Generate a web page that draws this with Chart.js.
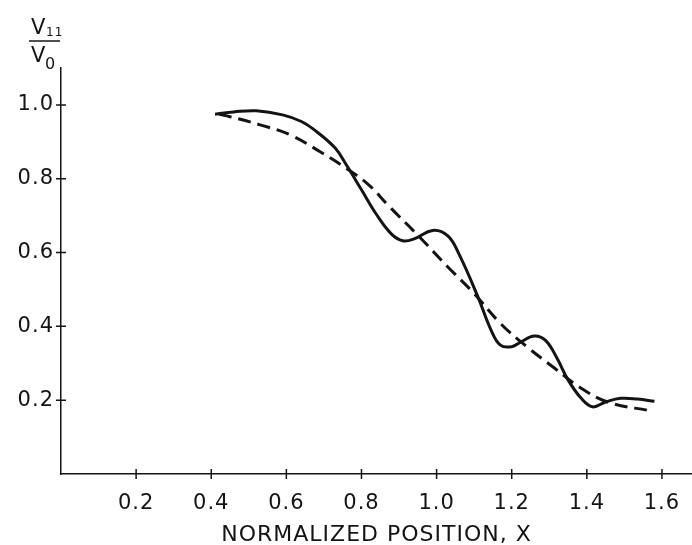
<!DOCTYPE html>
<html>
<head>
<meta charset="utf-8">
<script src="https://cdn.jsdelivr.net/npm/chart.js@4.4.1/dist/chart.umd.min.js"></script>
<style>
  html, body { margin: 0; padding: 0; background: #fff; }
  canvas { display: block; }
</style>
</head>
<body>
<canvas id="myChart" width="692" height="545"></canvas>
<script>
// measured curve (solid)
const solidX = [0.41, 0.46, 0.52, 0.59, 0.64, 0.68, 0.73, 0.76, 0.80, 0.84, 0.88, 0.91, 0.94, 0.99,
    1.03, 1.06, 1.11, 1.145, 1.17, 1.20, 1.225, 1.26, 1.29, 1.32, 1.35, 1.385, 1.415, 1.45, 1.49, 1.535, 1.58];
const solidY = [0.975, 0.981, 0.984, 0.973, 0.955, 0.928, 0.883, 0.837, 0.770, 0.703, 0.650, 0.632, 0.637, 0.660,
    0.645, 0.595, 0.480, 0.390, 0.349, 0.345, 0.358, 0.374, 0.362, 0.315, 0.255, 0.205, 0.182, 0.195, 0.205, 0.203, 0.197];

// smooth curve (dashed)
const dashX = [0.42, 0.45, 0.53, 0.61, 0.69, 0.76, 0.82, 0.87, 0.95, 1.03, 1.10, 1.17, 1.24, 1.31, 1.38, 1.455, 1.57];
const dashY = [0.975, 0.968, 0.946, 0.919, 0.873, 0.828, 0.783, 0.729, 0.647, 0.561, 0.489, 0.408, 0.345, 0.290, 0.236, 0.195, 0.171];

const xTicks = [0.2, 0.4, 0.6, 0.8, 1.0, 1.2, 1.4, 1.6];
const yTicks = [0.2, 0.4, 0.6, 0.8, 1.0];
const xTitle = 'NORMALIZED POSITION, X';

const ink = '#141414';
const font = '"DejaVu Sans", sans-serif';

const toPoints = (xs, ys) => xs.map((x, i) => ({ x: x, y: ys[i] }));

// wider lettering like the original drawing
const spacing = {
    id: 'spacing',
    beforeUpdate(chart) { chart.ctx.letterSpacing = '1px'; },
    beforeDraw(chart) { chart.ctx.letterSpacing = '1px'; }
};

// tick marks that cross the axis lines
const crossTicks = {
    id: 'crossTicks',
    afterDraw(chart) {
        const { ctx, chartArea, scales } = chart;
        ctx.save();
        ctx.strokeStyle = ink;
        ctx.lineWidth = 1.5;
        ctx.beginPath();
        xTicks.forEach(v => {
            const px = scales.x.getPixelForValue(v);
            ctx.moveTo(px, chartArea.bottom - 5);
            ctx.lineTo(px, chartArea.bottom + 5);
        });
        yTicks.forEach(v => {
            const py = scales.y.getPixelForValue(v);
            ctx.moveTo(chartArea.left - 5, py);
            ctx.lineTo(chartArea.left + 5, py);
        });
        ctx.stroke();
        ctx.restore();
    }
};

// V11 / V0 label above the y axis
const yLabel = {
    id: 'yLabel',
    afterDraw(chart) {
        const ctx = chart.ctx;
        ctx.save();
        ctx.fillStyle = ink;
        ctx.strokeStyle = ink;
        ctx.textAlign = 'left';
        ctx.textBaseline = 'alphabetic';
        ctx.font = '21px ' + font;
        ctx.fillText('V', 31, 34);
        ctx.fillText('V', 31, 62);
        ctx.font = '12px ' + font;
        ctx.fillText('11', 46, 36);
        ctx.font = '16px ' + font;
        ctx.fillText('0', 45, 69);
        ctx.lineWidth = 1.5;
        ctx.beginPath();
        ctx.moveTo(29, 41);
        ctx.lineTo(60, 41);
        ctx.stroke();
        ctx.restore();
    }
};

const data = {
    datasets: [
        {
            label: 'measured',
            data: toPoints(solidX, solidY),
            borderColor: ink,
            borderWidth: 3,
            pointRadius: 0,
            fill: false,
            tension: 0.4
        },
        {
            label: 'smooth',
            data: toPoints(dashX, dashY),
            borderColor: ink,
            borderWidth: 3,
            borderDash: [13, 7],
            pointRadius: 0,
            fill: false,
            tension: 0.4
        }
    ]
};

const config = {
    type: 'line',
    data: data,
    options: {
        responsive: false,
        animation: false,
        layout: {
            padding: { top: 68, right: 0, bottom: 0, left: 0 }
        },
        plugins: {
            legend: { display: false },
            tooltip: { enabled: false }
        },
        scales: {
            x: {
                type: 'linear',
                min: 0,
                max: 1.68,
                afterBuildTicks: scale => { scale.ticks = xTicks.map(v => ({ value: v })); },
                afterFit: scale => { scale.height = 71; scale.paddingLeft = 0; scale.paddingRight = 0; },
                grid: { drawOnChartArea: false, drawTicks: false },
                border: { display: true, color: ink, width: 1.5 },
                ticks: {
                    padding: 17,
                    color: ink,
                    font: { family: font, size: 21 },
                    maxRotation: 0,
                    callback: v => v.toFixed(1)
                },
                title: {
                    display: true,
                    text: xTitle,
                    color: ink,
                    font: { family: font, size: 22, lineHeight: 1 },
                    padding: { top: 0, bottom: -1 }
                }
            },
            y: {
                type: 'linear',
                min: 0,
                max: 1.1,
                afterBuildTicks: scale => { scale.ticks = yTicks.map(v => ({ value: v })); },
                afterFit: scale => { scale.width = 61; },
                grid: { drawOnChartArea: false, drawTicks: false },
                border: { display: true, color: ink, width: 1.5 },
                ticks: {
                    padding: 7,
                    color: ink,
                    font: { family: font, size: 21 },
                    callback: v => v.toFixed(1)
                }
            }
        }
    },
    plugins: [spacing, crossTicks, yLabel]
};

const ctx = document.getElementById('myChart').getContext('2d');
const myChart = new Chart(ctx, config);
</script>
</body>
</html>
